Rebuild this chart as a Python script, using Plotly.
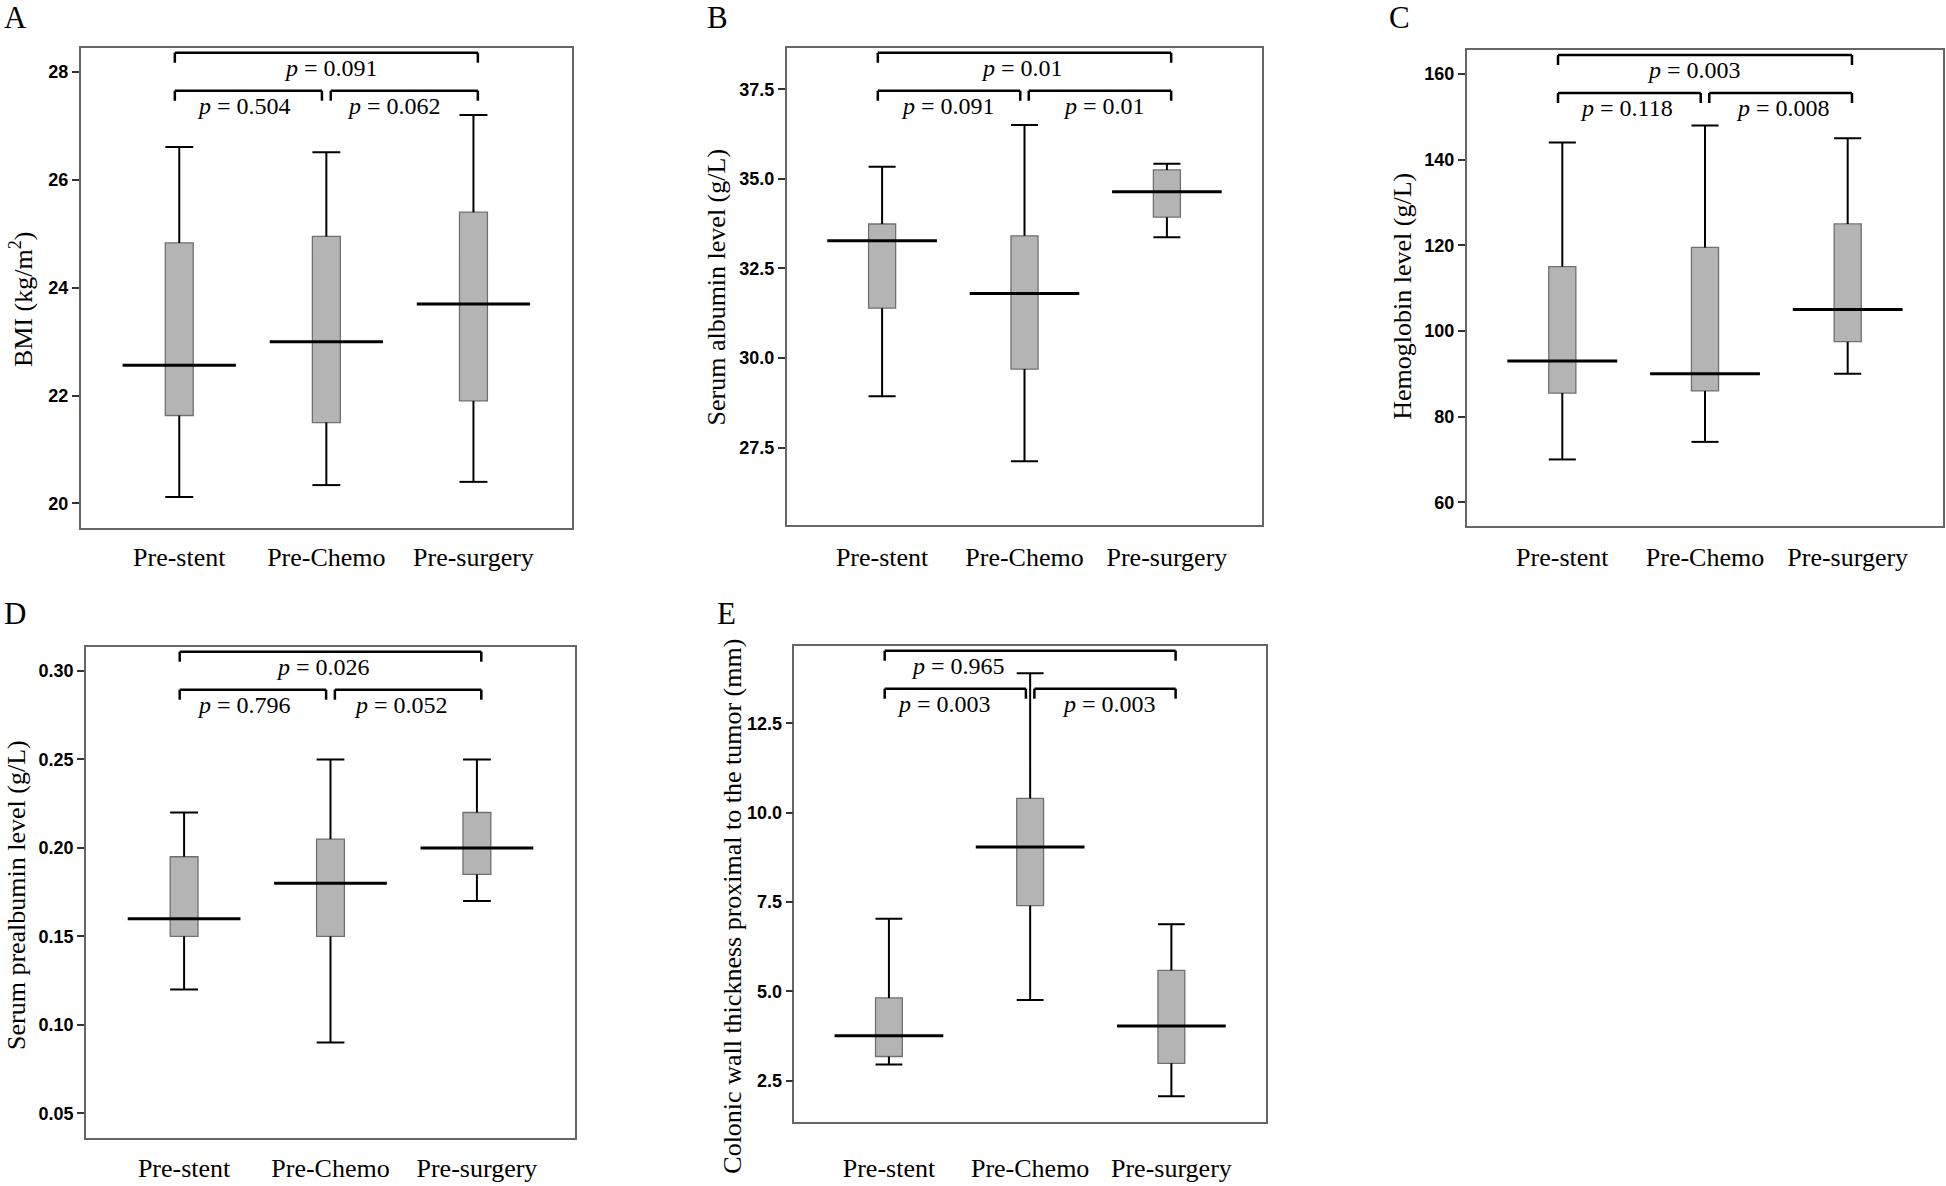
import plotly.graph_objects as go

W, H = 1946, 1186

categories = ["Pre-stent", "Pre-Chemo", "Pre-surgery"]

# A: BMI (kg/m2)
bmi_low = [20.12, 20.34, 20.40]
bmi_q1 = [21.63, 21.50, 21.90]
bmi_med = [22.56, 23.00, 23.70]
bmi_q3 = [24.83, 24.95, 25.40]
bmi_high = [26.61, 26.51, 27.20]
bmi_p = ["0.504", "0.062", "0.091"]
bmi_ticks = [20, 22, 24, 26, 28]

# B: Serum albumin (g/L)
alb_low = [28.93, 27.12, 33.37]
alb_q1 = [31.39, 29.69, 33.93]
alb_med = [33.27, 31.80, 34.64]
alb_q3 = [33.74, 33.41, 35.25]
alb_high = [35.34, 36.50, 35.42]
alb_p = ["0.091", "0.01", "0.01"]
alb_ticks = [27.5, 30.0, 32.5, 35.0, 37.5]

# C: Hemoglobin (g/L)
hb_low = [70.0, 74.1, 90.0]
hb_q1 = [85.5, 86.0, 97.5]
hb_med = [93.0, 90.0, 105.0]
hb_q3 = [115.0, 119.5, 125.0]
hb_high = [144.0, 148.0, 145.0]
hb_p = ["0.118", "0.008", "0.003"]
hb_ticks = [60, 80, 100, 120, 140, 160]

# D: Serum prealbumin (g/L)
pre_low = [0.12, 0.09, 0.17]
pre_q1 = [0.15, 0.15, 0.185]
pre_med = [0.16, 0.18, 0.20]
pre_q3 = [0.195, 0.205, 0.22]
pre_high = [0.22, 0.25, 0.25]
pre_p = ["0.796", "0.052", "0.026"]
pre_ticks = [0.05, 0.10, 0.15, 0.20, 0.25, 0.30]

# E: Colonic wall thickness (mm)
cwt_low = [2.96, 4.76, 2.07]
cwt_q1 = [3.18, 7.40, 2.99]
cwt_med = [3.76, 9.04, 4.03]
cwt_q3 = [4.82, 10.40, 5.59]
cwt_high = [7.03, 13.90, 6.88]
cwt_p = ["0.003", "0.003", "0.965"]
cwt_ticks = [2.5, 5.0, 7.5, 10.0, 12.5]

SERIF = "Liberation Serif"
SANS = "Liberation Sans"

panels = [
    dict(letter="A", title="BMI (kg/m<sup>2</sup>)",
         data=(bmi_low, bmi_q1, bmi_med, bmi_q3, bmi_high), p=bmi_p,
         ticks=bmi_ticks, fmt="d", frame=(80.7, 47.7, 572.0, 527.7),
         yrange=[19.55, 28.45], ptx=[0.44, 1.46, 1.03], title_xy=(21, 299),
         letter_xy=(15, 18), standoff=5),
    dict(letter="B", title="Serum albumin level (g/L)",
         data=(alb_low, alb_q1, alb_med, alb_q3, alb_high), p=alb_p,
         ticks=alb_ticks, fmt=".1f", frame=(786.7, 47.7, 1262.3, 525.0),
         yrange=[25.34, 38.66], ptx=[0.46, 1.56, 0.98], title_xy=(716, 287.5),
         letter_xy=(717.5, 18), standoff=8),
    dict(letter="C", title="Hemoglobin level (g/L)",
         data=(hb_low, hb_q1, hb_med, hb_q3, hb_high), p=hb_p,
         ticks=hb_ticks, fmt="d", frame=(1466.7, 50.0, 1943.3, 525.7),
         yrange=[54.53, 165.6], ptx=[0.45, 1.55, 0.92], title_xy=(1403, 296.7),
         letter_xy=(1399.7, 18), standoff=7),
    dict(letter="D", title="Serum prealbumin level (g/L)",
         data=(pre_low, pre_q1, pre_med, pre_q3, pre_high), p=pre_p,
         ticks=pre_ticks, fmt=".2f", frame=(86.0, 646.7, 575.0, 1138.3),
         yrange=[0.0359, 0.3137], ptx=[0.41, 1.48, 0.95], title_xy=(16, 895),
         letter_xy=(15, 613.7), standoff=6),
    dict(letter="E", title="Colonic wall thickness proximal to the tumor (mm)",
         data=(cwt_low, cwt_q1, cwt_med, cwt_q3, cwt_high), p=cwt_p,
         ticks=cwt_ticks, fmt=".1f", frame=(794.3, 645.7, 1266.0, 1122.3),
         yrange=[1.34, 14.67], ptx=[0.39, 1.56, 0.49], title_xy=(731.7, 906),
         letter_xy=(726.5, 613.7), standoff=22),
]

BOX_W = 0.19
MED_W = 0.77
XR = [-0.67, 2.67]

fig = go.Figure()
annotations = []
shapes = []
layout = {}

for k, pn in enumerate(panels):
    sfx = "" if k == 0 else str(k + 1)
    xa, ya = "x" + sfx, "y" + sfx
    low, q1, med, q3, high = pn["data"]
    x0p, y0p, x1p, y1p = pn["frame"]
    hpx = y1p - y0p
    idx = list(range(len(categories)))

    # boxes
    fig.add_trace(go.Bar(
        x=idx, y=[b - a for a, b in zip(q1, q3)], base=q1, width=BOX_W,
        marker=dict(color="#b4b4b4", line=dict(color="#707070", width=1.3)),
        xaxis=xa, yaxis=ya, showlegend=False, hoverinfo="skip"))
    # whiskers + caps
    wx, wy = [], []
    for i in idx:
        wx += [i, i, None, i - BOX_W / 2, i + BOX_W / 2, None,
               i, i, None, i - BOX_W / 2, i + BOX_W / 2, None]
        wy += [q3[i], high[i], None, high[i], high[i], None,
               q1[i], low[i], None, low[i], low[i], None]
    fig.add_trace(go.Scatter(x=wx, y=wy, mode="lines",
                             line=dict(color="black", width=2),
                             xaxis=xa, yaxis=ya, showlegend=False, hoverinfo="skip"))
    # medians
    mx, my = [], []
    for i in idx:
        mx += [i - MED_W / 2, i + MED_W / 2, None]
        my += [med[i], med[i], None]
    fig.add_trace(go.Scatter(x=mx, y=my, mode="lines",
                             line=dict(color="black", width=3),
                             xaxis=xa, yaxis=ya, showlegend=False, hoverinfo="skip"))

    # axes
    layout["xaxis" + sfx] = dict(
        domain=[x0p / W, x1p / W], range=XR, anchor=ya,
        tickvals=idx, ticktext=categories, ticks="",
        tickfont=dict(family=SERIF, size=26, color="black"),
        ticklabelstandoff=pn["standoff"],
        showline=True, linecolor="#666666", linewidth=1.5, mirror=True,
        showgrid=False, zeroline=False, fixedrange=True)
    layout["yaxis" + sfx] = dict(
        domain=[1 - y1p / H, 1 - y0p / H], range=pn["yrange"], anchor=xa,
        tickvals=pn["ticks"], tickformat=pn["fmt"], ticks="outside",
        ticklen=7, tickwidth=1.5, tickcolor="#333333",
        tickfont=dict(family=SANS, size=18, color="black", weight="bold"),
        showline=True, linecolor="#666666", linewidth=1.5, mirror=True,
        showgrid=False, zeroline=False, fixedrange=True)

    # brackets (pixel offsets from frame top converted to domain fraction)
    def yd(px):
        return 1 - px / hpx
    top_line, low_line, drop, toff = 5.0, 43.0, 10.0, 15.0
    gap = 0.03
    brackets = [
        (0 - gap, 1 - gap, low_line),
        (1 + gap, 2 + gap, low_line),
        (0 - gap, 2 + gap, top_line),
    ]
    for j, (bx0, bx1, ly) in enumerate(brackets):
        for (sx0, sy0, sx1, sy1) in [(bx0, ly + drop, bx0, ly),
                                     (bx0, ly, bx1, ly),
                                     (bx1, ly, bx1, ly + drop)]:
            shapes.append(dict(type="line", xref=xa, yref=ya + " domain",
                               x0=sx0, x1=sx1, y0=yd(sy0), y1=yd(sy1),
                               line=dict(color="black", width=2.5)))
        annotations.append(dict(
            text="<i>p</i> = " + pn["p"][j], xref=xa, yref=ya + " domain",
            x=pn["ptx"][j], y=yd(ly + toff), showarrow=False,
            xanchor="center", yanchor="middle",
            font=dict(family=SERIF, size=24, color="black")))

    # y title
    tx, ty = pn["title_xy"]
    annotations.append(dict(
        text=pn["title"], xref="paper", yref="paper",
        x=tx / W, y=1 - ty / H, textangle=-90,
        showarrow=False, xanchor="center", yanchor="middle",
        font=dict(family=SERIF, size=26, color="black")))
    # panel letter
    lx, ly_ = pn["letter_xy"]
    annotations.append(dict(
        text=pn["letter"], xref="paper", yref="paper",
        x=lx / W, y=1 - ly_ / H, showarrow=False,
        xanchor="center", yanchor="middle",
        font=dict(family=SERIF, size=31, color="black")))

fig.update_layout(
    width=W, height=H, margin=dict(l=0, r=0, t=0, b=0),
    paper_bgcolor="white", plot_bgcolor="white",
    showlegend=False, annotations=annotations, shapes=shapes,
    **layout)

fig.write_html("out.html",
               config={"displayModeBar": False},
               post_script="document.body.style.margin='0px';"
                           "document.body.style.overflow='hidden';")
